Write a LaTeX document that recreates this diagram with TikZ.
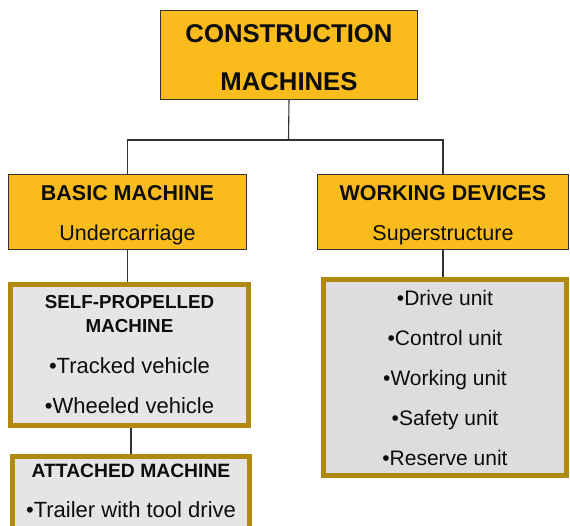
\documentclass[tikz,border=0pt]{standalone}
\usepackage{fontspec}
\setmainfont{Liberation Sans}
\usetikzlibrary{backgrounds}
\definecolor{cmyellow}{HTML}{F9BC1C}
\definecolor{cmgold}{HTML}{B08A0E}
\definecolor{cmgreyl}{HTML}{E6E4E6}
\definecolor{cmgreyr}{HTML}{DEDDDE}
\definecolor{cmline}{HTML}{333333}
\newcommand{\boxhead}[2]{{\bfseries\fontsize{#1}{24}\selectfont #2}}
\tikzset{
  headbox/.style={draw=cmline,line width=1pt,fill=cmyellow,align=center,inner sep=0pt},
  listbox/.style={draw=cmgold,line width=5pt,align=center,inner sep=0pt},
  link/.style={draw=cmline,line width=1.1pt}
}
\begin{document}
\begin{tikzpicture}[x=1pt,y=-1pt,text=black!95]
    \useasboundingbox (0,0) rectangle (570,525);
    \clip (0,0) rectangle (570,525);
    % top level
    \node[headbox,minimum width=257,minimum height=89,text height=70.5pt,text depth=0pt,font=\bfseries\fontsize{25.7}{48}\selectfont]
      (machines) at (289,55) {CONSTRUCTION\\MACHINES};
    \node[headbox,minimum width=238,minimum height=75,text height=60.6pt,text depth=4.5pt,font=\fontsize{21.5}{40}\selectfont]
      (basic) at (127.5,212) {\textbf{BASIC MACHINE}\\Undercarriage};
    \node[headbox,minimum width=251,minimum height=75,text height=60.6pt,text depth=4.5pt,font=\fontsize{21.5}{40}\selectfont]
      (working) at (443,212) {\textbf{WORKING DEVICES}\\Superstructure};
    % lists
    \node[listbox,fill=cmgreyl,minimum width=238,minimum height=141,font=\fontsize{22}{24}\selectfont]
      (selfprop) at (129.5,355) {\boxhead{18.8}{SELF-PROPELLED}\\\boxhead{18.8}{MACHINE}\\[17pt]%
      •Tracked vehicle\\[16pt]•Wheeled vehicle};
    \node[listbox,fill=cmgreyl,minimum width=237,minimum height=89.2,text depth=20pt,font=\fontsize{22}{24}\selectfont]
      (attached) at (131,501.1) {\boxhead{19.3}{ATTACHED MACHINE}\\[16pt]•Trailer with tool drive};
    \node[listbox,fill=cmgreyr,minimum width=243,minimum height=196,font=\fontsize{21}{40}\selectfont]
      (units) at (445,377.5) {•Drive unit\\•Control unit\\•Working unit\\•Safety unit\\•Reserve unit};
    % connectors
    \begin{scope}[on background layer]
    \coordinate (split) at (288.5,140);
    \draw[link] (machines.south) -- (split);
    \draw[link] (basic.north) |- (split) -| (working.north);
    \draw[link] (basic.south) -- (basic.south |- selfprop.north);
    \draw[link] (working.south) -- (working.south |- units.north);
    \draw[link] (attached.north) -- (attached.north |- selfprop.south);
    \end{scope}
  \end{tikzpicture}
\end{document}
